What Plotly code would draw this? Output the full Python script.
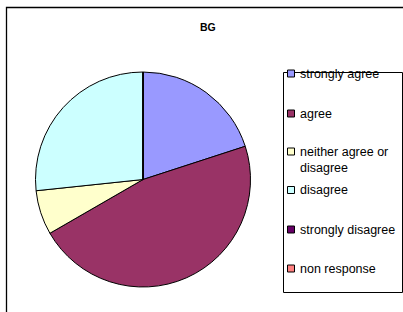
import plotly.graph_objects as go

title = "BG"
categories = ["strongly agree", "agree", "neither agree or disagree", "disagree",
              "strongly disagree", "non response"]
values = [3, 7, 1, 4, 0, 0]
colors = ["#9999FF", "#993366", "#FFFFCC", "#CCFFFF", "#660066", "#FF8080"]

W, H = 403, 312
def px(x):
    return x / W
def py(y):
    return 1 - y / H

fig = go.Figure()
fig.add_trace(go.Pie(
    labels=categories, values=values, sort=False, direction="clockwise",
    rotation=0, textinfo="none", hoverinfo="label+value+percent",
    marker=dict(colors=colors, line=dict(color="black", width=1)),
    domain=dict(x=[px(35.5), px(250.5)], y=[py(287), py(72)]),
    showlegend=False,
))

shapes = [
    dict(type="rect", xref="paper", yref="paper", x0=px(6.5), y0=py(330), x1=px(420), y1=py(7.5),
         line=dict(color="black", width=1.3), fillcolor="rgba(0,0,0,0)"),
    dict(type="rect", xref="paper", yref="paper", x0=px(283.5), y0=py(292.5), x1=px(402.5), y1=py(72.5),
         line=dict(color="black", width=1), fillcolor="white"),
]
annotations = [dict(text="<b>%s</b>" % title, x=px(208), y=py(27), xref="paper", yref="paper",
                    showarrow=False, xanchor="center", yanchor="middle",
                    font=dict(family="Liberation Sans, Arial", size=10.5, color="black"))]

item_y = [73.5, 113.5, 151.5, 190, 229.5, 268.5]
line_gap = 16
for cat, col, yy in zip(categories, colors, item_y):
    shapes.append(dict(type="rect", xref="paper", yref="paper",
                       x0=px(287.5), x1=px(294.5), y0=py(yy + 3.5), y1=py(yy - 3.5),
                       line=dict(color="black", width=1), fillcolor=col))
    lines = ["neither agree or", "disagree"] if cat == "neither agree or disagree" else [cat]
    for i, t in enumerate(lines):
        annotations.append(dict(text=t, x=px(297.5), y=py(yy + i * line_gap), xref="paper", yref="paper",
                                showarrow=False, xanchor="left", yanchor="middle",
                                font=dict(family="Liberation Sans, Arial", size=12.5, color="black")))

fig.update_layout(width=W, height=H, margin=dict(l=0, r=0, t=0, b=0),
                  paper_bgcolor="white", plot_bgcolor="white",
                  shapes=shapes, annotations=annotations, showlegend=False)
fig.write_html("out.html", config={"displayModeBar": False},
               post_script="document.body.style.margin='0';document.body.style.overflow='hidden';")
